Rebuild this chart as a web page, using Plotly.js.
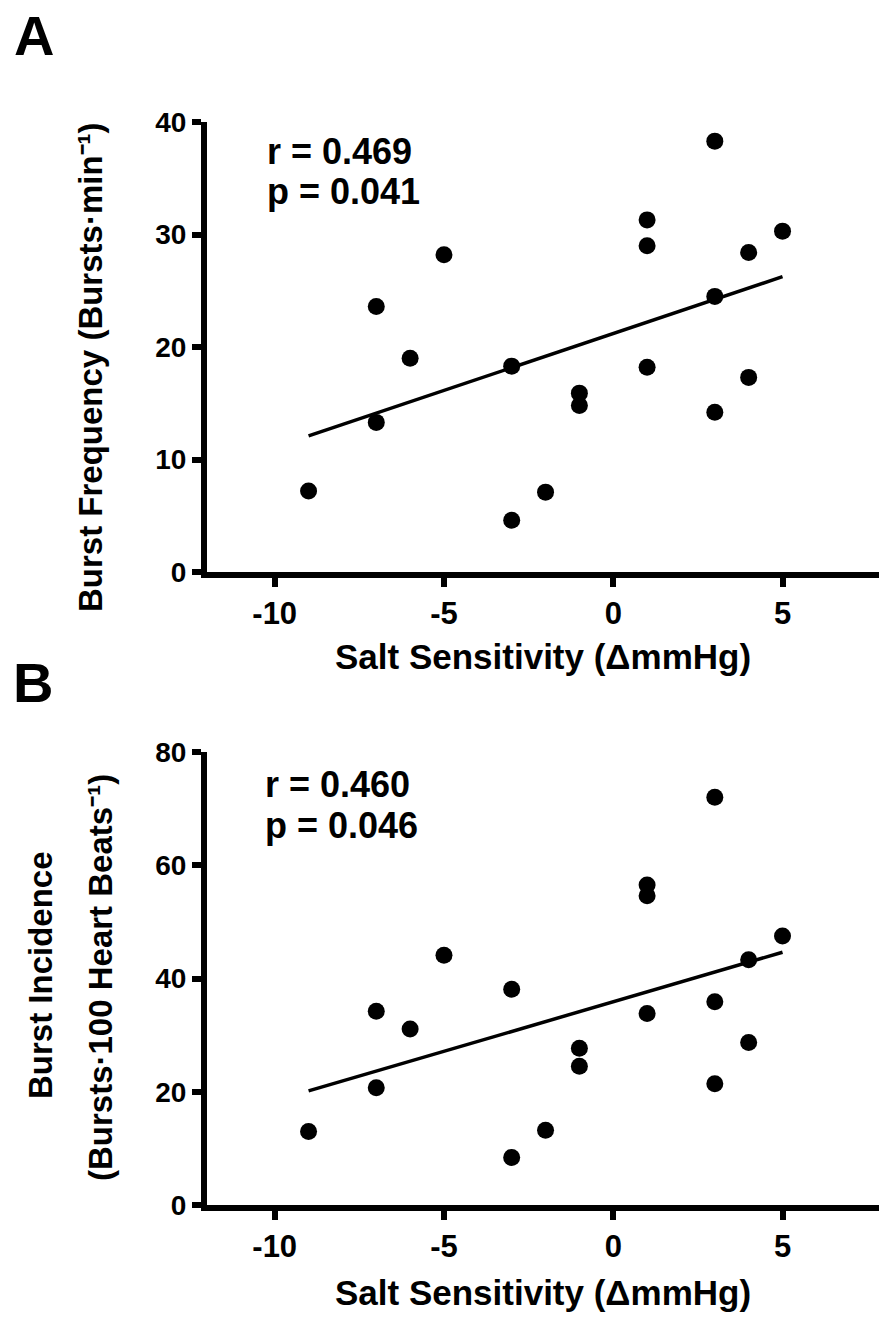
<!DOCTYPE html>
<html>
<head>
<meta charset="utf-8">
<script src="https://cdn.plot.ly/plotly-3.0.1.min.js"></script>
<style>html,body{margin:0;padding:0;background:#fff;}#chart{width:879px;height:1317px;}</style>
</head>
<body>
<div id="chart"></div>
<script>
// Salt sensitivity (ΔmmHg) for each subject
const saltSensitivity = [-9, -7, -7, -6, -5, -3, -3, -2, -1, -1, 1, 1, 1, 3, 3, 3, 4, 4, 5];
// Panel A: burst frequency (bursts·min-1)
const burstFrequency = [7.2, 23.6, 13.3, 19.0, 28.2, 18.3, 4.6, 7.1, 15.9, 14.8, 31.3, 29.0, 18.2, 38.3, 24.5, 14.2, 28.4, 17.3, 30.3];
// Panel B: burst incidence (bursts·100 heart beats-1)
const burstIncidence = [13.0, 34.2, 20.7, 31.1, 44.1, 38.1, 8.4, 13.2, 27.7, 24.5, 56.5, 54.6, 33.8, 72.0, 35.9, 21.4, 43.3, 28.7, 47.5];
const xTicks = [-10, -5, 0, 5];
const yTicksA = [0, 10, 20, 30, 40];
const yTicksB = [0, 20, 40, 60, 80];
const statsA = ["r = 0.469", "p = 0.041"];
const statsB = ["r = 0.460", "p = 0.046"];
const xTitle = "Salt Sensitivity (ΔmmHg)";
const yTitleA = "Burst Frequency (Bursts·min⁻¹)";
const yTitleB = ["Burst Incidence", "(Bursts·100 Heart Beats⁻¹)"];

function fit(x, y) {
  const n = x.length;
  const mx = x.reduce((a, b) => a + b, 0) / n;
  const my = y.reduce((a, b) => a + b, 0) / n;
  let sxy = 0, sxx = 0;
  for (let i = 0; i < n; i++) { sxy += (x[i] - mx) * (y[i] - my); sxx += (x[i] - mx) ** 2; }
  const b = sxy / sxx, a = my - b * mx;
  const x0 = Math.min(...x), x1 = Math.max(...x);
  return { x: [x0, x1], y: [a + b * x0, a + b * x1] };
}
const fA = fit(saltSensitivity, burstFrequency);
const fB = fit(saltSensitivity, burstIncidence);

const W = 879, H = 1317;
const px = v => v / W;
const py = v => 1 - v / H;
const FF = "Liberation Sans, Arial, Helvetica, sans-serif";

const marker = { size: 17, color: "#000" };
const lineStyle = { color: "#000", width: 3.5 };
const traces = [
  { x: saltSensitivity, y: burstFrequency, mode: "markers", type: "scatter", marker, xaxis: "x", yaxis: "y", showlegend: false },
  { x: fA.x, y: fA.y, mode: "lines", type: "scatter", line: lineStyle, xaxis: "x", yaxis: "y", showlegend: false },
  { x: saltSensitivity, y: burstIncidence, mode: "markers", type: "scatter", marker, xaxis: "x2", yaxis: "y2", showlegend: false },
  { x: fB.x, y: fB.y, mode: "lines", type: "scatter", line: lineStyle, xaxis: "x2", yaxis: "y2", showlegend: false }
];

const axBase = {
  showline: true, linewidth: 6, linecolor: "#000", ticks: "outside", ticklen: 9, tickwidth: 6, tickcolor: "#000",
  showgrid: false, zeroline: false, fixedrange: true
};
const xFont = { family: FF, size: 31, color: "#000", weight: "bold" };
const yFont = { family: FF, size: 28, color: "#000", weight: "bold" };

function ann(text, x, y, size, opts) {
  return Object.assign({ text, x: px(x), y: py(y), xref: "paper", yref: "paper", showarrow: false,
    xanchor: "center", yanchor: "middle", font: { family: FF, size, weight: "bold", color: "#000" } }, opts || {});
}

const layout = {
  width: W, height: H, margin: { l: 0, r: 0, t: 0, b: 0 }, paper_bgcolor: "#fff", plot_bgcolor: "#fff",
  xaxis: Object.assign({}, axBase, { domain: [px(207), 1], range: [-12, 7.85], tickvals: xTicks, ticktext: xTicks.map(String), tickfont: xFont, anchor: "y" }),
  yaxis: Object.assign({}, axBase, { domain: [py(572), py(122)], range: [0, 40], tickvals: yTicksA, tickfont: yFont, anchor: "x" }),
  xaxis2: Object.assign({}, axBase, { domain: [px(207), 1], range: [-12, 7.85], tickvals: xTicks, ticktext: xTicks.map(String), tickfont: xFont, anchor: "y2" }),
  yaxis2: Object.assign({}, axBase, { domain: [py(1205), py(752)], range: [0, 80], tickvals: yTicksB, tickfont: yFont, anchor: "x2" }),
  annotations: [
    ann("A", 34, 36, 56),
    ann("B", 33, 682, 56),
    ann(statsA[0], 265, 152, 36, { xanchor: "left" }),
    ann(statsA[1], 265, 192, 36, { xanchor: "left" }),
    ann(statsB[0], 263, 784, 36, { xanchor: "left" }),
    ann(statsB[1], 263, 825, 36, { xanchor: "left" }),
    ann(yTitleA, 90, 367, 33, { textangle: -90 }),
    ann(yTitleB[0], 40, 975, 33, { textangle: -90 }),
    ann(yTitleB[1], 100, 978, 33, { textangle: -90 }),
    ann(xTitle, 543, 656, 35),
    ann(xTitle, 543, 1292, 35)
  ]
};

Plotly.newPlot("chart", traces, layout, { staticPlot: true, displayModeBar: false });
</script>
</body>
</html>
